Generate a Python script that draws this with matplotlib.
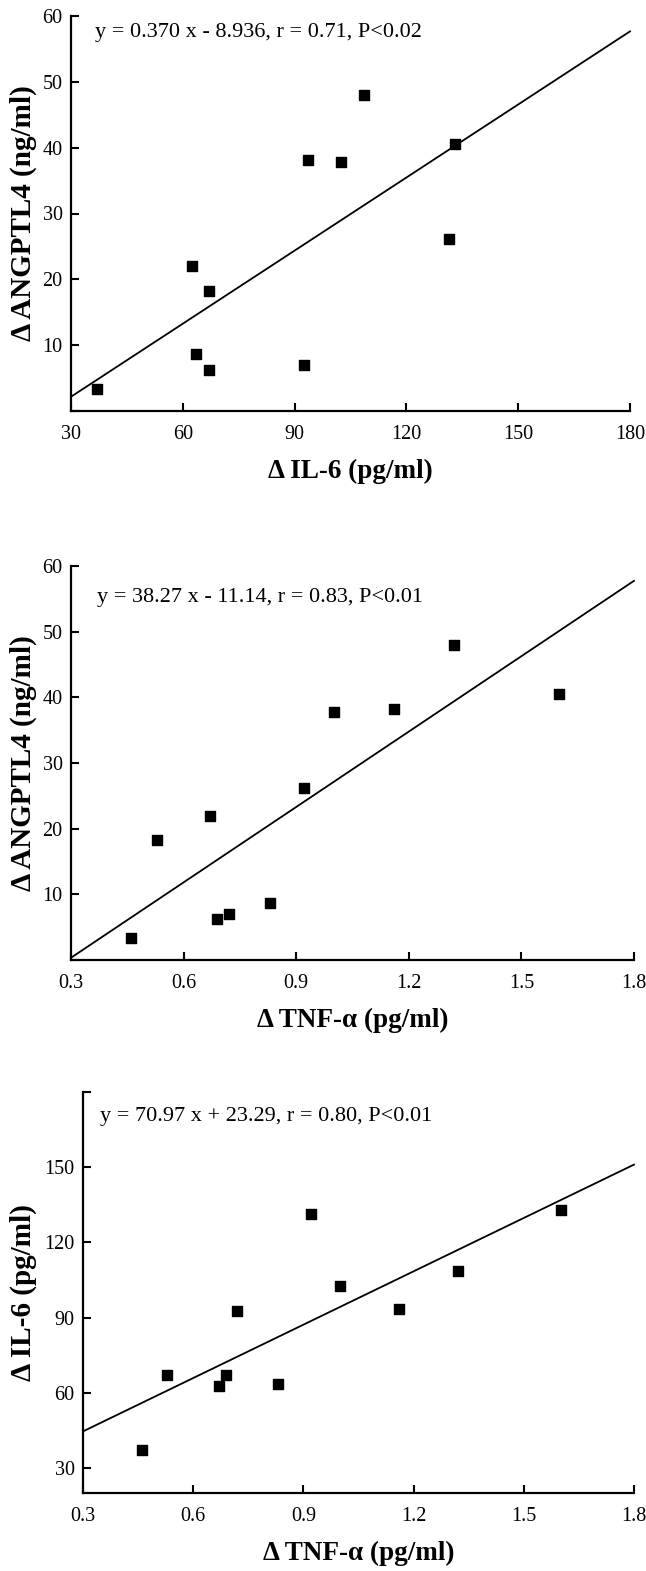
import matplotlib
matplotlib.use("Agg")
import matplotlib.pyplot as plt
import numpy as np

plt.rcParams['font.family'] = ['Liberation Serif', 'DejaVu Serif']

# one entry per subject, shared across the three panels
il6 = [37, 62.5, 67, 63.5, 67, 92.5, 93.5, 102.5, 108.5, 131.5, 133]
tnf = [0.46, 0.67, 0.53, 0.83, 0.69, 0.72, 1.16, 1.00, 1.32, 0.92, 1.60]
angptl4 = [3.3, 22.0, 18.2, 8.7, 6.3, 7.0, 38.2, 37.8, 48.0, 26.2, 40.5]

# regression (slope, intercept) and annotation per panel
fits = [(0.370, -8.936), (38.27, -11.14), (70.97, 23.29)]
eqs = ["y = 0.370 x - 8.936, r = 0.71, P<0.02",
       "y = 38.27 x - 11.14, r = 0.83, P<0.01",
       "y = 70.97 x + 23.29, r = 0.80, P<0.01"]
xlabels = ["Δ IL-6 (pg/ml)", "Δ TNF-α (pg/ml)", "Δ TNF-α (pg/ml)"]
ylabels = ["Δ ANGPTL4 (ng/ml)", "Δ ANGPTL4 (ng/ml)", "Δ IL-6 (pg/ml)"]
xticks = [[30, 60, 90, 120, 150, 180],
          [0.3, 0.6, 0.9, 1.2, 1.5, 1.8],
          [0.3, 0.6, 0.9, 1.2, 1.5, 1.8]]
xticklabels = [["30", "60", "90", "120", "150", "180"],
               ["0.3", "0.6", "0.9", "1.2", "1.5", "1.8"],
               ["0.3", "0.6", "0.9", "1.2", "1.5", "1.8"]]
yticks = [[0, 10, 20, 30, 40, 50, 60],
          [0, 10, 20, 30, 40, 50, 60],
          [30, 60, 90, 120, 150, 180]]
yticklabels = [["", "10", "20", "30", "40", "50", "60"],
               ["", "10", "20", "30", "40", "50", "60"],
               ["30", "60", "90", "120", "150", ""]]
ylims = [(0, 60), (0, 60), (20, 180)]
xs = [il6, tnf, tnf]
ys = [angptl4, angptl4, il6]

W, H = 646, 1571
fig = plt.figure(figsize=(W / 100, H / 100), dpi=100)

# axes boxes in pixels: left, right, top, bottom
boxes = [(71, 630, 16, 411), (71, 634, 566, 960), (83, 634, 1092, 1493)]
eq_pos = [(0.043, 0.957), (0.046, 0.921), (0.031, 0.938)]

for i in range(3):
    l, r, t, b = boxes[i]
    ax = fig.add_axes([l / W, 1 - b / H, (r - l) / W, (b - t) / H])
    x0, x1 = xticks[i][0], xticks[i][-1]
    ax.set_xlim(x0, x1)
    ax.set_ylim(*ylims[i])

    ax.scatter(xs[i], ys[i], marker='s', s=45, color='black', zorder=3)
    m, c = fits[i]
    xx = np.array([x0, x1])
    ax.plot(xx, m * xx + c, color='black', lw=1.3, clip_on=False)

    ax.spines['top'].set_visible(False)
    ax.spines['right'].set_visible(False)
    for s in ['left', 'bottom']:
        ax.spines[s].set_linewidth(1.6)

    ax.set_xticks(xticks[i])
    ax.set_xticklabels(xticklabels[i])
    ax.set_yticks(yticks[i])
    ax.set_yticklabels(yticklabels[i])
    ax.tick_params(direction='in', length=6, width=1.5, labelsize=14.5)
    ax.tick_params(axis='x', pad=10)
    ax.tick_params(axis='y', pad=6)

    ax.text(eq_pos[i][0], eq_pos[i][1], eqs[i], transform=ax.transAxes,
            fontsize=16, va='center', ha='left')

    h = b - t
    ax.set_xlabel(xlabels[i], fontsize=19.5, fontweight='bold', va='center')
    ax.xaxis.set_label_coords(0.5, -60 / h)
    ax.set_ylabel(ylabels[i], fontsize=21, fontweight='bold', va='center')
    ax.yaxis.set_label_coords(-(l - 23) / (r - l), 0.5)

fig.savefig("out.png", dpi=100)
